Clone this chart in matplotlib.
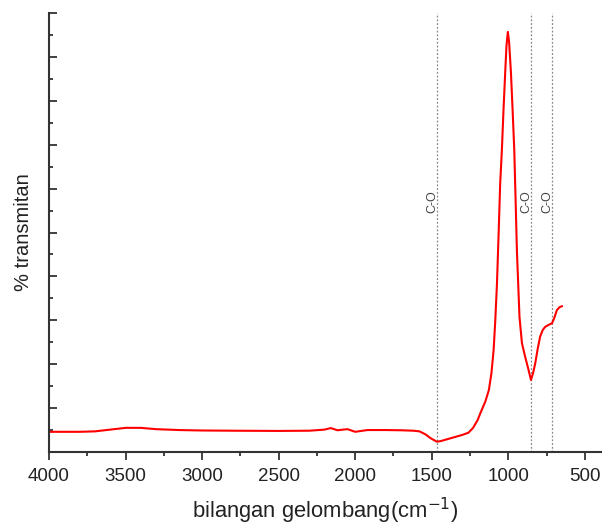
import matplotlib
matplotlib.use("Agg")
import matplotlib.pyplot as plt
from matplotlib.ticker import MultipleLocator

plt.rcParams['font.family'] = ['Liberation Sans', 'DejaVu Sans']

wavenumber = [4000, 3800, 3700, 3600, 3500, 3400, 3300, 3150, 3000, 2800, 2500, 2300,
              2200, 2160, 2115, 2080, 2050, 2000, 1960, 1920, 1800, 1700, 1620, 1580,
              1540, 1510, 1480, 1466, 1440, 1400, 1350, 1300, 1260, 1230, 1200, 1183,
              1150, 1127, 1110, 1096, 1085, 1074, 1063, 1053, 1042, 1030, 1020, 1012,
              1003, 995, 983, 972, 961, 952, 944, 935, 927, 911, 890, 870, 852, 838,
              824, 808, 792, 775, 759, 735, 715, 700, 683, 665, 650]
transmitan = [4.6, 4.6, 4.7, 5.1, 5.5, 5.5, 5.2, 5.0, 4.9, 4.85, 4.8, 4.85,
              5.1, 5.45, 4.95, 5.1, 5.2, 4.6, 4.8, 5.0, 5.0, 4.95, 4.85, 4.7,
              4.0, 3.2, 2.6, 2.35, 2.5, 2.9, 3.4, 3.9, 4.4, 5.5, 7.3, 8.8,
              11.5, 14.1, 18.0, 23.2, 30.0, 38.4, 50.0, 61.2, 68.8, 79.0, 86.6, 92.5,
              95.7, 93.5, 86.6, 78.0, 68.8, 57.0, 46.0, 38.0, 30.8, 24.8, 21.7, 19.0, 16.4, 18.0,
              20.2, 23.5, 26.3, 27.8, 28.5, 29.0, 29.3, 30.5, 32.3, 33.0, 33.2]

band_positions = [1466, 852, 715]
band_labels = ["C-O", "C-O", "C-O"]
x_ticks = [4000, 3500, 3000, 2500, 2000, 1500, 1000, 500]

fig = plt.figure(figsize=(6.02, 5.27), dpi=100)
ax = fig.add_axes([49/602, (527-452)/527, (602-49)/602, (452-13)/527])

ax.plot(wavenumber, transmitan, color='#ff0000', lw=1.5)

for pos, lab in zip(band_positions, band_labels):
    ax.axvline(pos, color='#888888', lw=0.9, ls=(0, (1.5, 1.5)), zorder=0)
    ax.text(pos - 8, 57, lab, rotation=90, ha='right', va='center',
            fontsize=9, color='#444444')

ax.set_xlim(4000, 388)
ax.set_ylim(0, 100)
ax.set_xticks(x_ticks)
ax.set_xticklabels([str(t) for t in x_ticks])
ax.xaxis.set_minor_locator(MultipleLocator(250))
ax.yaxis.set_major_locator(MultipleLocator(10))
ax.yaxis.set_minor_locator(MultipleLocator(5))
ax.set_yticklabels([])

for s in ['top', 'right']:
    ax.spines[s].set_visible(False)
for s in ['left', 'bottom']:
    ax.spines[s].set_linewidth(1.5)
    ax.spines[s].set_color('#333333')

ax.tick_params(axis='x', which='major', direction='out', length=5.5, width=1.3,
               color='#333333', labelsize=13.5, labelcolor='#222222', pad=6)
ax.tick_params(axis='x', which='minor', direction='out', length=3, width=1.3, color='#333333')
ax.tick_params(axis='y', which='major', direction='in', length=6, width=1.3, color='#333333')
ax.tick_params(axis='y', which='minor', direction='in', length=3, width=1.3, color='#333333')

ax.set_xlabel("bilangan gelombang(cm$^{-1}$)", fontsize=15.8, color='#222222', labelpad=8)
ax.set_ylabel("% transmitan", fontsize=14.5, color='#222222', labelpad=8)

fig.savefig("out.png", dpi=100)
